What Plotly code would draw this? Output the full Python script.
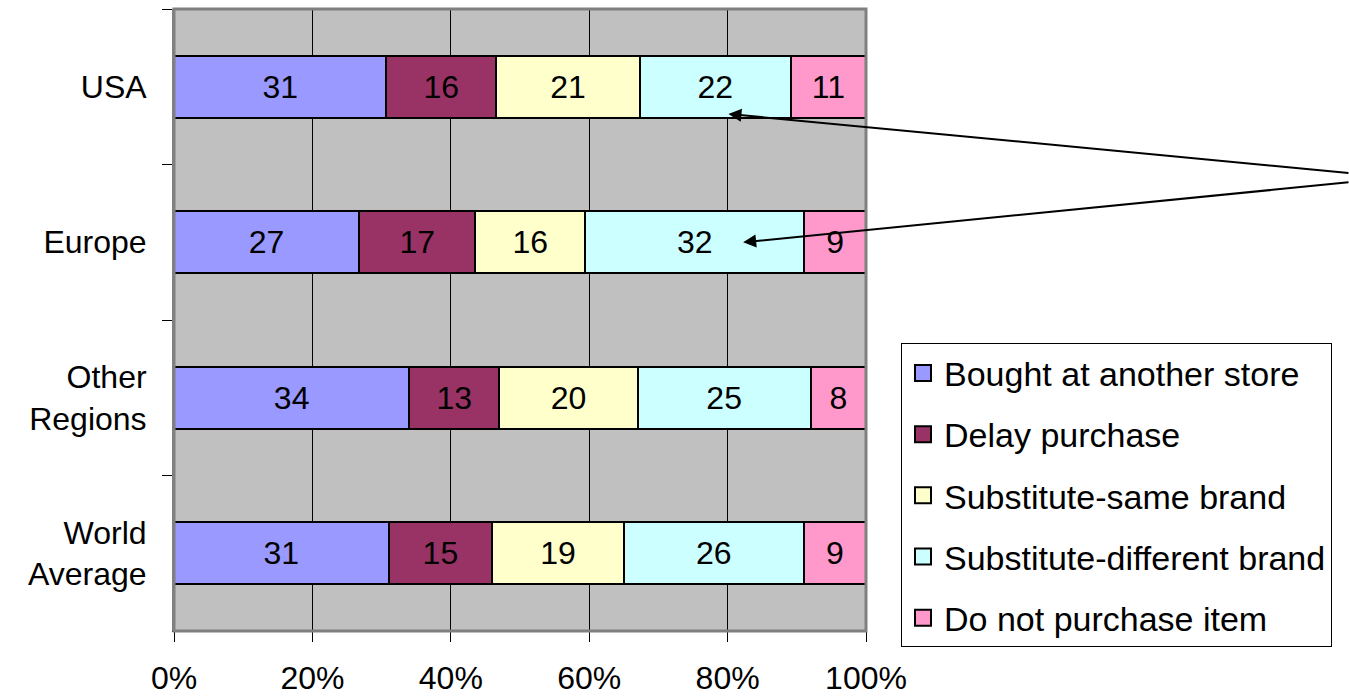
import plotly.graph_objects as go

# Regions, listed top to bottom
regions = ["USA", "Europe", "Other<br>Regions", "World<br>Average"]

# Share of shoppers per response (%)
bought_elsewhere = [31, 27, 34, 31]
delay_purchase = [16, 17, 13, 15]
substitute_same = [21, 16, 20, 19]
substitute_diff = [22, 32, 25, 26]
no_purchase = [11, 9, 8, 9]

series_names = [
    "Bought at another store",
    "Delay purchase",
    "Substitute-same brand",
    "Substitute-different brand",
    "Do not purchase item",
]
series_values = [bought_elsewhere, delay_purchase, substitute_same, substitute_diff, no_purchase]
series_colors = ["#9999FF", "#993366", "#FFFFCC", "#CCFFFF", "#FF99CC"]

x_ticks = [0, 20, 40, 60, 80, 100]

FONT = "Arial, Liberation Sans, sans-serif"

fig = go.Figure()
for name, vals, color in zip(series_names, series_values, series_colors):
    fig.add_trace(go.Bar(
        y=regions,
        x=vals,
        name=name,
        orientation="h",
        legendgroup=name,
        showlegend=False,
        marker=dict(color=color, line=dict(color="black", width=2)),
        text=vals,
        texttemplate="%{text}",
        textposition="inside",
        insidetextanchor="middle",
        textfont=dict(color="black", size=32, family=FONT),
        width=0.4,
        hoverinfo="skip",
    ))
    # legend key: a larger outlined square than the default bar swatch
    fig.add_trace(go.Scatter(
        x=[None], y=[None],
        mode="markers",
        name=name,
        legendgroup=name,
        showlegend=True,
        marker=dict(symbol="square", size=16, color=color,
                    line=dict(color="black", width=2)),
        hoverinfo="skip",
    ))

# Arrows pointing at the "Substitute-different brand" labels of USA and Europe
def segment_center(row):
    total = sum(v[row] for v in series_values)
    before = bought_elsewhere[row] + delay_purchase[row] + substitute_same[row]
    return (before + substitute_diff[row] / 2) / total * 100

arrow_targets = [(0, 1.9, 0.175, 624, 59), (1, 7.0, 0.0, 609, -60)]
for row, dx, dy, ax, ay in arrow_targets:
    fig.add_annotation(
        x=segment_center(row) + dx, y=row + dy,
        xref="x", yref="y",
        ax=ax, ay=ay,
        text="", showarrow=True,
        font=dict(size=1),
        borderpad=0,
        arrowhead=2, arrowsize=1.3, arrowwidth=2, arrowcolor="black",
        standoff=0, startstandoff=0,
    )

# Plot-area frame
fig.add_shape(type="rect", xref="paper", yref="paper", x0=0, x1=1, y0=0, y1=1,
              line=dict(color="#808080", width=3), layer="above")

fig.update_layout(
    width=1349, height=696,
    margin=dict(l=174, r=483, t=9, b=65, autoexpand=False),
    barmode="stack",
    barnorm="percent",
    paper_bgcolor="white",
    plot_bgcolor="#C0C0C0",
    font=dict(family=FONT, color="black", size=32),
    showlegend=True,
    legend=dict(
        x=1.0506, xanchor="left",
        y=0.4625, yanchor="top",
        bgcolor="white",
        bordercolor="black", borderwidth=1,
        font=dict(size=34, family=FONT, color="black"),
        traceorder="grouped",
        tracegroupgap=14,
        itemwidth=32,
        itemclick=False, itemdoubleclick=False,
    ),
    xaxis=dict(
        range=[0, 100],
        tickvals=x_ticks,
        ticktext=[f"{t}%" for t in x_ticks],
        ticks="outside", ticklen=10, tickwidth=1, tickcolor="black",
        showgrid=True, gridcolor="black", gridwidth=1,
        showline=True, linecolor="black", linewidth=1,
        zeroline=False,
        tickfont=dict(size=32, family=FONT),
        ticklabelstandoff=9,
        automargin=False,
        fixedrange=True,
    ),
    yaxis=dict(
        autorange="reversed",
        ticks="outside", ticklen=10, tickwidth=1, tickcolor="black",
        tickson="boundaries",
        showgrid=False,
        showline=True, linecolor="#808080", linewidth=2,
        tickfont=dict(size=32, family=FONT),
        ticklabelstandoff=19,
        automargin=False,
        fixedrange=True,
    ),
)

fig.write_html("out.html")
